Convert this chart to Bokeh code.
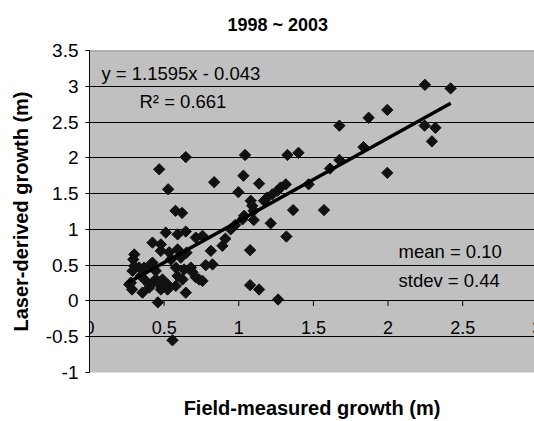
import math
from bokeh.plotting import figure
from bokeh.models import ColumnDataSource, Label, FixedTicker, Span
from bokeh.embed import file_html
from bokeh.resources import INLINE

title_text = "1998 ~ 2003"
x_label = "Field-measured growth (m)"
y_label = "Laser-derived growth (m)"

field_growth = [
    0.467, 0.645, 0.527, 0.835, 1.042, 1.031, 1.136, 0.997, 1.326, 1.40,
    0.576, 0.62, 1.08, 1.09, 1.10, 1.10, 1.036, 1.169, 1.19, 1.225,
    1.259, 1.28, 1.315, 1.468, 1.214, 1.364, 1.571, 1.319, 1.076, 1.076,
    1.136, 1.263, 1.611, 1.674, 1.674, 1.835, 1.87, 1.995, 1.995, 2.247,
    2.419, 2.245, 2.317, 2.294, 0.556,
    0.89, 0.91, 0.946, 0.975, 1.025, 0.813, 0.779, 0.824, 0.422, 0.478,
    0.511, 0.59, 0.645, 0.712, 0.757, 0.534, 0.59, 0.612, 0.65, 0.30,
    0.293, 0.30, 0.288, 0.333, 0.366, 0.411, 0.266, 0.285, 0.355, 0.40,
    0.433, 0.478, 0.523, 0.578, 0.645, 0.458, 0.578, 0.634, 0.679, 0.712,
    0.59, 0.623, 0.422, 0.444, 0.344, 0.377, 0.734, 0.757, 0.545, 0.478,
    0.69, 0.478, 0.523, 0.456, 0.489, 0.277,
]
laser_growth = [
    1.84, 2.01, 1.56, 1.66, 2.04, 1.75, 1.64, 1.52, 2.04, 2.07,
    1.26, 1.23, 1.40, 1.33, 1.26, 1.13, 1.19, 1.40, 1.445, 1.49,
    1.54, 1.585, 1.63, 1.63, 1.085, 1.27, 1.27, 0.90, 0.71, 0.22,
    0.16, 0.02, 1.85, 1.97, 2.45, 2.15, 2.56, 2.67, 1.79, 3.02,
    2.97, 2.45, 2.42, 2.23, -0.55,
    0.77, 0.87, 1.0, 1.06, 1.14, 0.70, 0.50, 0.51, 0.815, 0.79,
    0.955, 0.93, 0.97, 0.885, 0.91, 0.68, 0.72, 0.605, 0.675, 0.65,
    0.58, 0.49, 0.42, 0.466, 0.466, 0.51, 0.23, 0.16, 0.116, 0.186,
    0.28, 0.21, 0.23, 0.21, 0.116, -0.02, 0.466, 0.44, 0.466, 0.33,
    0.35, 0.30, 0.535, 0.42, 0.35, 0.28, 0.30, 0.28, 0.58, 0.70,
    0.40, 0.16, 0.16, 0.28, 0.30, 0.256,
]

slope = 1.1595
intercept = -0.043
trend_x = [0.255, 2.42]
trend_y = [slope * v + intercept for v in trend_x]

eq_text = "y = 1.1595x - 0.043"
r2_text = "R\u00b2 = 0.661"
mean_text = "mean = 0.10"
stdev_text = "stdev  = 0.44"

x_ticks = [0, 0.5, 1, 1.5, 2, 2.5, 3]
x_tick_labels = ["0", "0.5", "1", "1.5", "2", "2.5", "3"]
y_ticks = [-1, -0.5, 0, 0.5, 1, 1.5, 2, 2.5, 3, 3.5]
y_tick_labels = ["-1", "-0.5", "0", "0.5", "1", "1.5", "2", "2.5", "3", "3.5"]

FONT = "Liberation Sans"

p = figure(width=534, height=421, x_range=(0, 2.981), y_range=(-1, 3.5),
           output_backend="svg", toolbar_location=None,
           min_border_left=89, min_border_right=0, min_border_top=50,
           min_border_bottom=49, title=title_text)

p.background_fill_color = "#C0C0C0"
p.border_fill_color = "white"
p.outline_line_color = None

p.title.align = "left"
p.title.offset = 138
p.title.vertical_align = "top"
p.title.text_font = FONT
p.title.text_font_size = "18px"
p.title.text_font_style = "bold"
p.title.text_color = "black"
p.title.standoff = 27

p.xgrid.visible = False
p.ygrid.ticker = FixedTicker(ticks=y_ticks[:-1])
p.ygrid.grid_line_color = "black"
p.ygrid.grid_line_width = 1
p.add_layout(Span(location=y_ticks[-1], dimension="width",
                  line_color="#808080", line_width=1.5))

# left axis
p.yaxis.ticker = FixedTicker(ticks=y_ticks)
p.yaxis.major_label_overrides = dict(zip(y_ticks, y_tick_labels))
p.yaxis.axis_line_color = "black"
p.yaxis.major_tick_line_color = "black"
p.yaxis.major_tick_out = 4
p.yaxis.major_tick_in = 0
p.yaxis.minor_tick_line_color = None
p.yaxis.major_label_text_font = FONT
p.yaxis.major_label_text_font_size = "19px"
p.yaxis.major_label_text_color = "black"
p.yaxis.major_label_standoff = 7
p.yaxis.axis_label = y_label
p.yaxis.axis_label_text_font = FONT
p.yaxis.axis_label_text_font_size = "20px"
p.yaxis.axis_label_text_font_style = "bold"
p.yaxis.axis_label_text_color = "black"
p.yaxis.axis_label_standoff = 11

# bottom axis: label only
p.xaxis.ticker = FixedTicker(ticks=[])
p.xaxis.axis_line_color = None
p.xaxis.major_tick_line_color = None
p.xaxis.minor_tick_line_color = None
p.xaxis.major_tick_out = 0
p.xaxis.major_label_standoff = 0
p.xaxis.axis_label = x_label
p.xaxis.axis_label_text_font = FONT
p.xaxis.axis_label_text_font_size = "20px"
p.xaxis.axis_label_text_font_style = "bold"
p.xaxis.axis_label_text_color = "black"
p.xaxis.axis_label_standoff = 24

# x axis drawn at y = 0
px_per_y = 322 / 4.5
tick_len = 5 / px_per_y
p.segment(x0=x_ticks, y0=[0] * len(x_ticks), x1=x_ticks,
          y1=[-tick_len] * len(x_ticks), line_color="black", line_width=1)
for tx, tl in zip(x_ticks, x_tick_labels):
    p.add_layout(Label(x=tx, y=0, text=tl, y_offset=-27,
                       text_align="center", text_baseline="middle",
                       text_font=FONT, text_font_size="18px",
                       text_color="black"))

src = ColumnDataSource(dict(x=field_growth, y=laser_growth))
p.scatter("x", "y", source=src, marker="square", angle=math.pi / 4, size=8,
          fill_color="#111111", line_color="#111111", line_width=1)

p.line(trend_x, trend_y, line_color="black", line_width=3.5)

for txt, lx, ly in [(eq_text, 0.080, 3.183), (r2_text, 0.335, 2.791),
                    (mean_text, 2.070, 0.695), (stdev_text, 2.070, 0.286)]:
    p.add_layout(Label(x=lx, y=ly, text=txt, text_baseline="middle",
                       text_align="left", text_font=FONT,
                       text_font_size="18.5px", text_color="black"))

open("out.html", "w").write(file_html(p, INLINE))
